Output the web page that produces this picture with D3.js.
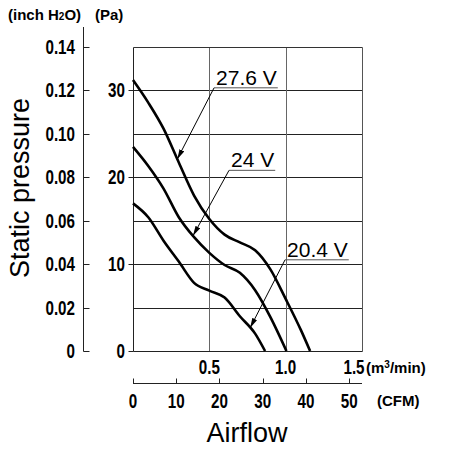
<!DOCTYPE html>
<html>
<head>
<meta charset="utf-8">
<script src="https://cdn.jsdelivr.net/npm/d3@7"></script>
<style>
  body { margin: 0; background: #fff; }
  .tick-label { font-family: 'Liberation Sans', Arial, sans-serif; font-weight: bold; font-size: 20px; fill: #000; }
  .unit { font-family: 'Liberation Sans', Arial, sans-serif; font-weight: bold; font-size: 15px; fill: #000; }
  .title { font-family: 'Liberation Sans', Arial, sans-serif; font-size: 27px; fill: #000; }
  .volt { font-family: 'Liberation Sans', Arial, sans-serif; font-size: 21px; fill: #000; }
</style>
</head>
<body>
<div id="chart"></div>
<script>
// curves: airflow in m3/min, static pressure in Pa
var flow276 = [0, 0.1, 0.2, 0.3, 0.4, 0.5, 0.6, 0.7, 0.8, 0.9, 1.0, 1.1, 1.16];
var pa276 = [31.2, 28.6, 25.6, 21.7, 17.9, 15.2, 13.4, 12.5, 11.6, 9.4, 6.0, 2.4, 0];
var flow24 = [0, 0.1, 0.2, 0.3, 0.4, 0.5, 0.6, 0.7, 0.8, 0.9, 1.005];
var pa24 = [23.5, 21.3, 18.7, 15.4, 13.1, 11.3, 9.9, 9.0, 7.0, 3.9, 0];
var flow204 = [0, 0.1, 0.2, 0.3, 0.4, 0.5, 0.6, 0.7, 0.8, 0.865];
var pa204 = [17.0, 15.4, 12.7, 10.3, 7.85, 6.95, 6.15, 4.0, 2.0, 0];

var voltLabels = ['27.6 V', '24 V', '20.4 V'];
var labelFlow = [0.531, 0.629, 0.996];
var labelPa = [30.3, 20.8, 10.5];
var arrowFlow = [0.29, 0.393, 0.767];

var paTicks = [0, 10, 20, 30];
var inchTicks = [0, 0.02, 0.04, 0.06, 0.08, 0.10, 0.12, 0.14];
var m3Ticks = [0.5, 1.0, 1.5];
var cfmTicks = [0, 10, 20, 30, 40, 50];
var gridPa = [5, 10, 15, 20, 25, 30];
var gridFlow = [0.5, 1.0];

var series = [
  { flow: flow276, pa: pa276 },
  { flow: flow24, pa: pa24 },
  { flow: flow204, pa: pa204 }
];

var W = 451, H = 450;
var narrow = 0.76; // tick numbers are set in a condensed face
var svg = d3.select('#chart').append('svg')
  .attr('width', W)
  .attr('height', H);

var x = d3.scaleLinear().domain([0, 1.5]).range([133, 362]);
var y = d3.scaleLinear().domain([0, 35]).range([351, 47]);
var yInch = d3.scaleLinear().domain([0, 0.14]).range([351, 47]);
var xCfm = d3.scaleLinear().domain([0, 1.5 * 35.3147]).range([133, 362]);

function px(v) { return Math.round(v) + 0.5; }
function at(tx, ty) { return 'translate(' + tx + ',' + ty + ') scale(' + narrow + ',1)'; }

// grid
var grid = svg.append('g');
grid.selectAll('line.h').data(gridPa).enter().append('line')
  .attr('x1', x(0)).attr('x2', x(1.5))
  .attr('y1', function(d) { return px(y(d)); })
  .attr('y2', function(d) { return px(y(d)); })
  .attr('stroke', '#222').attr('stroke-width', 1);
grid.selectAll('line.v').data(gridFlow).enter().append('line')
  .attr('y1', y(0)).attr('y2', y(35))
  .attr('x1', function(d) { return px(x(d)); })
  .attr('x2', function(d) { return px(x(d)); })
  .attr('stroke', '#666').attr('stroke-width', 1);

// frame
grid.append('line').attr('x1', px(x(0))).attr('x2', px(x(1.5))).attr('y1', px(y(35))).attr('y2', px(y(35)))
  .attr('stroke', '#333');
grid.append('line').attr('x1', px(x(1.5))).attr('x2', px(x(1.5))).attr('y1', px(y(35))).attr('y2', px(y(0)))
  .attr('stroke', '#555');
grid.append('line').attr('x1', px(x(0))).attr('x2', px(x(0))).attr('y1', px(y(35))).attr('y2', px(y(0)))
  .attr('stroke', '#222');
grid.append('line').attr('x1', px(x(0))).attr('x2', px(x(1.5))).attr('y1', px(y(0))).attr('y2', px(y(0)))
  .attr('stroke', '#222');

// Pa axis (on the frame)
var paAxis = svg.append('g');
paAxis.selectAll('line').data(paTicks).enter().append('line')
  .attr('x1', px(x(0)) - 5).attr('x2', px(x(0)))
  .attr('y1', function(d) { return px(y(d)); })
  .attr('y2', function(d) { return px(y(d)); })
  .attr('stroke', '#222');
paAxis.selectAll('text').data(paTicks).enter().append('text')
  .attr('class', 'tick-label')
  .attr('transform', function(d) { return at(125, y(d) + 7); })
  .attr('text-anchor', 'end')
  .text(function(d) { return d; });

// inch H2O axis
var inchX = 83.5;
var inchAxis = svg.append('g');
inchAxis.append('line').attr('x1', inchX).attr('x2', inchX).attr('y1', 27).attr('y2', px(yInch(0)))
  .attr('stroke', '#222');
inchAxis.selectAll('line.t').data(inchTicks).enter().append('line')
  .attr('x1', inchX).attr('x2', inchX + 6)
  .attr('y1', function(d) { return px(yInch(d)); })
  .attr('y2', function(d) { return px(yInch(d)); })
  .attr('stroke', '#222');
inchAxis.selectAll('text').data(inchTicks).enter().append('text')
  .attr('class', 'tick-label')
  .attr('transform', function(d) { return at(75, yInch(d) + 7); })
  .attr('text-anchor', 'end')
  .text(function(d) { return d === 0 ? '0' : d3.format('.2f')(d); });

var unitTop = svg.append('text').attr('class', 'unit').attr('x', 8).attr('y', 20);
unitTop.append('tspan').text('(inch H');
unitTop.append('tspan').attr('font-size', '10px').text('2');
unitTop.append('tspan').text('O)');
svg.append('text').attr('class', 'unit').attr('x', 95).attr('y', 20).text('(Pa)');

// m3/min labels under the frame
svg.append('g').selectAll('text').data(m3Ticks).enter().append('text')
  .attr('class', 'tick-label')
  .attr('transform', function(d) { return at(d === 1.5 ? x(d) - 8 : x(d), 374); })
  .attr('text-anchor', 'middle')
  .text(function(d) { return d3.format('.1f')(d); });
var m3Unit = svg.append('text').attr('class', 'unit').attr('x', 366).attr('y', 373);
m3Unit.append('tspan').text('(m');
m3Unit.append('tspan').attr('font-size', '10px').attr('dy', -5).text('3');
m3Unit.append('tspan').attr('dy', 5).text('/min)');

// CFM axis
var cfmY = 383.5;
var cfm = svg.append('g');
cfm.append('line').attr('x1', xCfm(0)).attr('x2', 362).attr('y1', cfmY).attr('y2', cfmY).attr('stroke', '#222');
cfm.selectAll('line.t').data(cfmTicks).enter().append('line')
  .attr('x1', function(d) { return px(xCfm(d)); })
  .attr('x2', function(d) { return px(xCfm(d)); })
  .attr('y1', cfmY - 5).attr('y2', cfmY)
  .attr('stroke', '#222');
cfm.selectAll('text').data(cfmTicks).enter().append('text')
  .attr('class', 'tick-label')
  .attr('transform', function(d) { return at(xCfm(d), 408); })
  .attr('text-anchor', 'middle')
  .text(function(d) { return d; });
svg.append('text').attr('class', 'unit').attr('x', 377).attr('y', 406).text('(CFM)');

// titles
svg.append('text').attr('class', 'title')
  .attr('x', 247).attr('y', 442)
  .attr('text-anchor', 'middle')
  .text('Airflow');
svg.append('text').attr('class', 'title')
  .attr('transform', 'translate(29,188) rotate(-90)')
  .attr('text-anchor', 'middle')
  .text('Static pressure');

// curves
var line = d3.line()
  .x(function(d) { return x(d[0]); })
  .y(function(d) { return y(d[1]); })
  .curve(d3.curveMonotoneX);

svg.append('g').selectAll('path').data(series).enter().append('path')
  .attr('d', function(s) { return line(d3.zip(s.flow, s.pa)); })
  .attr('fill', 'none')
  .attr('stroke', '#000')
  .attr('stroke-width', 2.6);

// voltage annotations
svg.append('defs').append('marker')
  .attr('id', 'arrow')
  .attr('markerUnits', 'userSpaceOnUse')
  .attr('viewBox', '0 -3 10 6')
  .attr('refX', 10).attr('refY', 0)
  .attr('markerWidth', 10).attr('markerHeight', 6)
  .attr('orient', 'auto')
  .append('path').attr('d', 'M0,-2.6L10,0L0,2.6Z').attr('fill', '#000');

function paAt(s, f) {
  for (var i = 1; i < s.flow.length; i++) {
    if (f <= s.flow[i]) {
      var t = (f - s.flow[i - 1]) / (s.flow[i] - s.flow[i - 1]);
      return s.pa[i - 1] + t * (s.pa[i] - s.pa[i - 1]);
    }
  }
  return 0;
}

var notes = svg.append('g');
voltLabels.forEach(function(label, i) {
  var lx = x(labelFlow[i]);
  var ly = y(labelPa[i]);
  var txt = notes.append('text').attr('class', 'volt')
    .attr('x', lx + 2).attr('y', ly - 3)
    .text(label);
  var w = txt.node().getComputedTextLength();
  notes.append('line')
    .attr('x1', lx).attr('x2', lx + w + 3)
    .attr('y1', ly).attr('y2', ly)
    .attr('stroke', '#555').attr('stroke-width', 1);
  notes.append('line')
    .attr('x1', lx).attr('y1', ly)
    .attr('x2', x(arrowFlow[i]))
    .attr('y2', y(paAt(series[i], arrowFlow[i])))
    .attr('stroke', '#000').attr('stroke-width', 1)
    .attr('marker-end', 'url(#arrow)');
});
</script>
</body>
</html>
